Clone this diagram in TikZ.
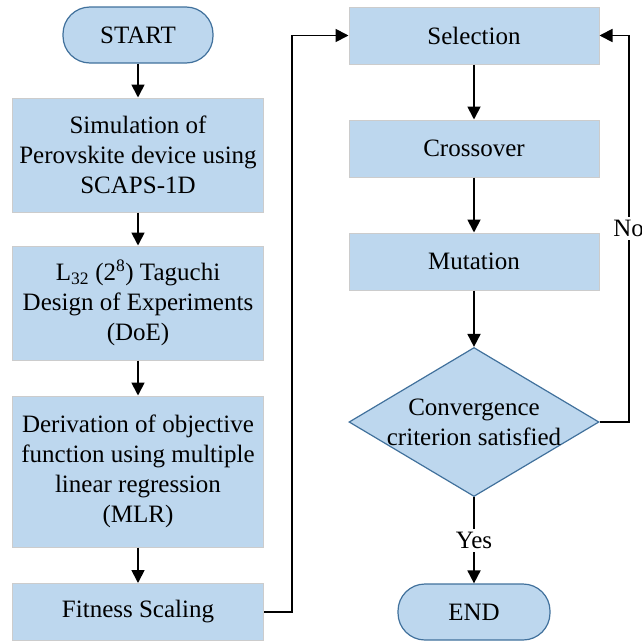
\documentclass[tikz,border=0pt]{standalone}
\usepackage{fontspec}
\setmainfont{Liberation Serif}
\usetikzlibrary{arrows.meta, shapes.geometric}
\definecolor{boxblue}{HTML}{BDD7EE}
\definecolor{edgeblue}{HTML}{41719C}

\begin{document}
\begin{tikzpicture}[x=1pt, y=-1pt, font=\fontsize{25}{30}\selectfont,
    box/.style={draw=black!20, line width=1pt, fill=boxblue, minimum width=251pt, align=center, inner sep=2pt},
    term/.style={draw=edgeblue, line width=1.2pt, fill=boxblue, rounded corners=27pt, minimum height=56pt},
    decision/.style={diamond, draw=edgeblue, line width=1.2pt, fill=boxblue, inner sep=0pt, minimum width=250pt, minimum height=149pt},
    arr/.style={-{Triangle[length=13pt, width=13pt]}, line width=1.8pt},
    lbl/.style={fill=white, inner sep=3pt}]
    \useasboundingbox (0,0) rectangle (641,643);
    % left column
    \node[term, minimum width=150pt] (start) at (138,35) {START};
    \node[box, minimum height=114pt] (sim) at (138,155) {Simulation of\\Perovskite device using\\SCAPS-1D};
    \node[box, minimum height=114pt] (taguchi) at (138,303) {L\textsubscript{32} (2\textsuperscript{8}) Taguchi\\Design of Experiments\\(DoE)};
    \node[box, minimum height=151pt] (mlr) at (138,471.5) {Derivation of objective\\function using multiple\\linear regression\\(MLR)};
    \node[box, minimum height=57pt] (fit) at (138,612) {Fitness Scaling};
    % right column
    \node[box, minimum width=250pt, minimum height=57pt] (sel) at (474,35.5) {Selection};
    \node[box, minimum width=250pt, minimum height=57pt] (cross) at (474,148.5) {Crossover};
    \node[box, minimum width=250pt, minimum height=57pt] (mut) at (474,261.5) {Mutation};
    \node[decision] (conv) at (474,422) {};
    \node[align=center] (convtext) at (conv) {Convergence\\criterion satisfied};
    \node[term, minimum width=152pt] (finish) at (474,612) {END};

    \draw[arr] (start) -- (sim);
    \draw[arr] (sim) -- (taguchi);
    \draw[arr] (taguchi) -- (mlr);
    \draw[arr] (mlr) -- (fit);
    \draw[arr] (fit.east) -- ++(28,0) |- (sel.west);
    \draw[arr] (sel) -- (cross);
    \draw[arr] (cross) -- (mut);
    \draw[arr] (mut) -- (conv);
    \draw[arr] (conv) -- node[lbl]{Yes} (finish);
    \draw[arr] (conv.east) -- ++(29,0) |- node[lbl, pos=0.25]{No} (sel.east);
\end{tikzpicture}
\end{document}
